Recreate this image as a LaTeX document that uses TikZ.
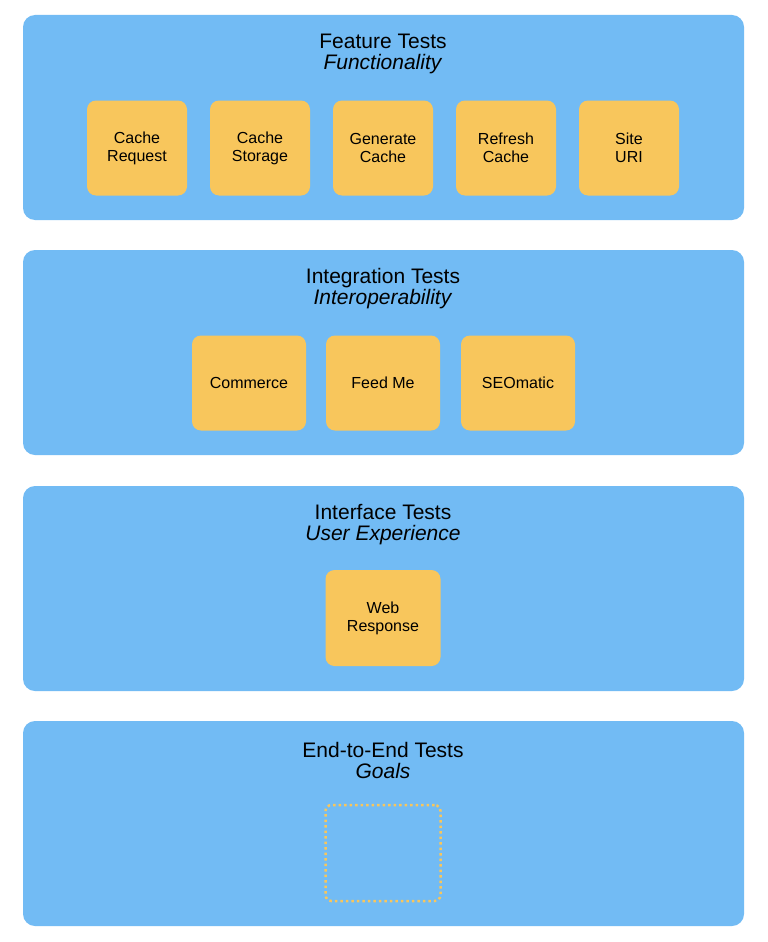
\documentclass[tikz,border=0pt]{standalone}
\usepackage{fontspec}
\setmainfont{Liberation Sans}
\definecolor{pblue}{HTML}{72BBF4}
\definecolor{pyel}{HTML}{F8C65C}
\begin{document}
\begin{tikzpicture}[x=1pt,y=-1pt,
 panel/.style={fill=pblue,rounded corners=12pt},
 box/.style={fill=pyel,rounded corners=9pt,minimum height=95pt,align=center,font=\fontsize{16}{18}\selectfont,inner sep=0pt},
 ttl/.style={font=\fontsize{21}{24}\selectfont,align=center}]
\useasboundingbox (0,0) rectangle (768,942);
\fill[white] (0,0) rectangle (768,942);
\foreach \t/\n in {15/p1,250/p2,486/p3,721/p4}{
  \fill[panel] (23,\t) rectangle (744,\t+205);
}
\node[ttl] (t1) at (383,54) {Feature Tests\\[-3pt]\textit{Functionality}};
\node[ttl] (t2) at (383,289) {Integration Tests\\[-3pt]\textit{Interoperability}};
\node[ttl] (t3) at (383,525) {Interface Tests\\[-3pt]\textit{User Experience}};
\node[ttl] (t4) at (383,760) {End-to-End Tests\\[-3pt]\textit{Goals}};
\foreach \x/\a/\b/\n in {137/Cache/Request/a,260/Cache/Storage/b,383/Generate/Cache/c,506/Refresh/Cache/d,629/Site/URI/e}{
  \node[box,minimum width=100pt] (\n) at (\x,148) {\a\\\b};
}
\foreach \x/\a/\n in {249/Commerce/f,383/Feed Me/g,518/SEOmatic/h}{
  \node[box,minimum width=114pt] (\n) at (\x,383) {\a};
}
\node[box,minimum width=115pt,minimum height=96pt] (w) at (383,618) {Web\\Response};
\node[draw=pyel,line width=2.5pt,dash pattern=on 2.5pt off 3pt,rounded corners=6pt,minimum width=115pt,minimum height=96pt] (g) at (383,853) {};
\end{tikzpicture}
\end{document}
